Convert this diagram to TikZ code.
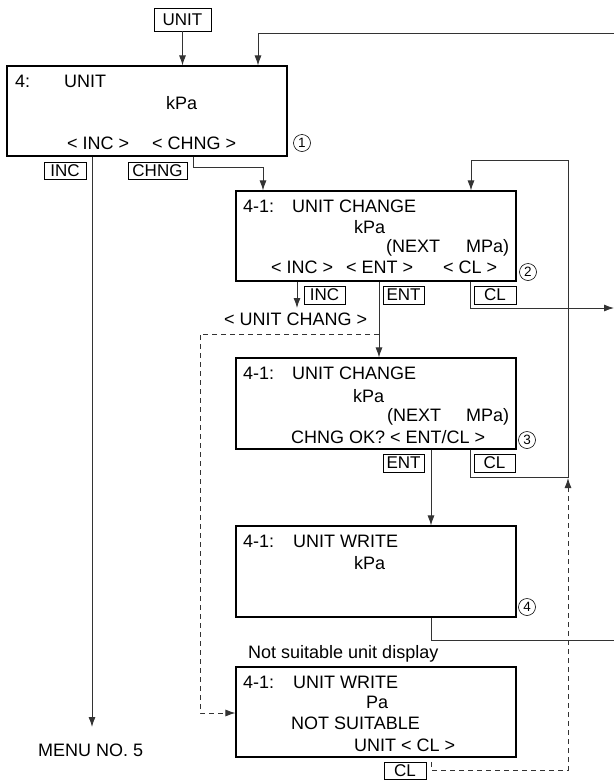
\documentclass[tikz,border=0pt]{standalone}
\usepackage{fontspec}
\setmainfont{Liberation Sans}
\usetikzlibrary{arrows.meta}
\begin{document}
\begin{tikzpicture}[x=1pt,y=-1pt,
  box/.style={draw, line width=1.1pt, minimum width=280pt, inner sep=0pt},
  btn/.style={draw, line width=0.9pt, inner sep=0pt, font=\fontsize{17}{17}\selectfont, text depth=0pt},
  txt/.style={anchor=base west, inner sep=0pt, font=\fontsize{18}{18}\selectfont},
  conn/.style={line width=0.9pt, draw=black!80},
  arr/.style={conn, -{Latex[length=10pt,width=7pt]}},
  dconn/.style={conn, dash pattern=on 5pt off 4pt},
  darr/.style={dconn, -{Latex[length=10pt,width=7pt]}},
  num/.style={circle, draw, line width=0.6pt, inner sep=0pt, minimum size=17pt, font=\fontsize{13.5}{13.5}\selectfont}]
\useasboundingbox (0,0) rectangle (614,780);

% boxes
\node[box, minimum height=90pt] (b1) at (147,111) {};
\node[box, minimum height=90pt] (b2) at (376,236) {};
\node[box, minimum height=91pt] (b3) at (376,403.5) {};
\node[box, minimum height=91pt] (b4) at (376,571.5) {};
\node[box, minimum height=90pt] (b5) at (376,712) {};

% buttons
\node[btn, minimum width=57pt, minimum height=23pt] (kunit) at (182.5,19.5) {UNIT};
\node[btn, minimum width=42pt, minimum height=17pt] (kinc1) at (65,170.5) {INC};
\node[btn, minimum width=59pt, minimum height=17pt] (kchng) at (157.5,170.5) {CHNG};
\node[btn, minimum width=41pt, minimum height=18pt] (kinc2) at (324.5,295) {INC};
\node[btn, minimum width=41pt, minimum height=18pt] (kent2) at (403.5,295) {ENT};
\node[btn, minimum width=42pt, minimum height=18pt] (kcl2) at (495,295) {CL};
\node[btn, minimum width=41pt, minimum height=18pt] (kent3) at (403.5,463) {ENT};
\node[btn, minimum width=41pt, minimum height=18pt] (kcl3) at (494.5,463) {CL};
\node[btn, minimum width=42pt, minimum height=17pt] (kcl5) at (405,770.5) {CL};

% texts box 1
\node[txt] (t11) at (15,87) {4:};
\node[txt] (t12) at (64,87) {UNIT};
\node[txt] (t13) at (166,109) {kPa};
\node[txt] (t14) at (67,149) {< INC >};
\node[txt] (t15) at (152,149) {< CHNG >};
% box 2
\node[txt] (t21) at (243,212) {4-1:};
\node[txt] (t22) at (292,212) {UNIT CHANGE};
\node[txt] (t23) at (354,233) {kPa};
\node[txt] (t24) at (386,252) {(NEXT};
\node[txt] (t25) at (466,252) {MPa)};
\node[txt] (t26) at (271,273) {< INC >};
\node[txt] (t27) at (346,273) {< ENT >};
\node[txt] (t28) at (443,273) {< CL >};
% box 3
\node[txt] (t31) at (243,379) {4-1:};
\node[txt] (t32) at (292,379) {UNIT CHANGE};
\node[txt] (t33) at (353,402) {kPa};
\node[txt] (t34) at (387,421) {(NEXT};
\node[txt] (t35) at (466,421) {MPa)};
\node[txt] (t36) at (291,443) {CHNG OK? < ENT/CL >};
% box 4
\node[txt] (t41) at (243,547) {4-1:};
\node[txt] (t42) at (293,547) {UNIT WRITE};
\node[txt] (t43) at (354,569) {kPa};
% box 5
\node[txt] (t51) at (243,688) {4-1:};
\node[txt] (t52) at (293,688) {UNIT WRITE};
\node[txt] (t53) at (366,708) {Pa};
\node[txt] (t54) at (291,729) {NOT SUITABLE};
\node[txt] (t55) at (354,751) {UNIT < CL >};
% other texts
\node[txt] (tns) at (248,658) {Not suitable unit display};
\node[txt] (tmenu) at (38,756) {MENU NO. 5};
\node[txt] (tuc) at (224,325) {< UNIT CHANG >};

% circled numbers
\node[num] (n1) at (302,143) {1};
\node[num] (n2) at (528,272) {2};
\node[num] (n3) at (527,440) {3};
\node[num] (n4) at (527,607) {4};

% coordinates
\coordinate (r0) at (614,33);
\coordinate (r1) at (258,33);
\coordinate (m5) at (92,727);
\coordinate (c1) at (193,167);
\coordinate (c2) at (263,167);
\coordinate (l1) at (568,477);
\coordinate (l2) at (568,160);
\coordinate (l3) at (471,160);
\coordinate (i2) at (297,308);
\coordinate (e2) at (379,334);
\coordinate (d1) at (200,334);
\coordinate (d2) at (200,713);
\coordinate (cl2a) at (470,308);
\coordinate (cl2b) at (614,308);
\coordinate (cl3a) at (470,477);
\coordinate (w1) at (431,640);
\coordinate (w2) at (614,640);
\coordinate (q1) at (431,762);
\coordinate (q2) at (431,770);
\coordinate (q3) at (568,770);
\coordinate (q4) at (568,478);

% connectors
\draw[arr] (kunit.south) -- (kunit.south |- b1.north);
\draw[arr] (r0) -- (r1) -- (r1 |- b1.north);
\draw[arr] (m5 |- b1.south) -- (m5);
\draw[arr] (c1 |- b1.south) -- (c1) -- (c2) -- (c2 |- b2.north);
\draw[arr] (cl3a |- b3.south) -- (cl3a) -- (l1) -- (l2) -- (l3) -- (l3 |- b2.north);
\draw[arr] (i2 |- b2.south) -- (i2);
\draw[arr] (e2 |- b2.south) -- (e2 |- b3.north);
\draw[darr] (e2) -- (d1) -- (d2) -- (d2 -| b5.west);
\draw[arr] (cl2a |- b2.south) -- (cl2a) -- (cl2b);
\draw[arr] (w1 |- b3.south) -- (w1 |- b4.north);
\draw[conn] (w1 |- b4.south) -- (w1) -- (w2);
\draw[darr] (q1) -- (q2) -- (q3) -- (q4);
\end{tikzpicture}
\end{document}
